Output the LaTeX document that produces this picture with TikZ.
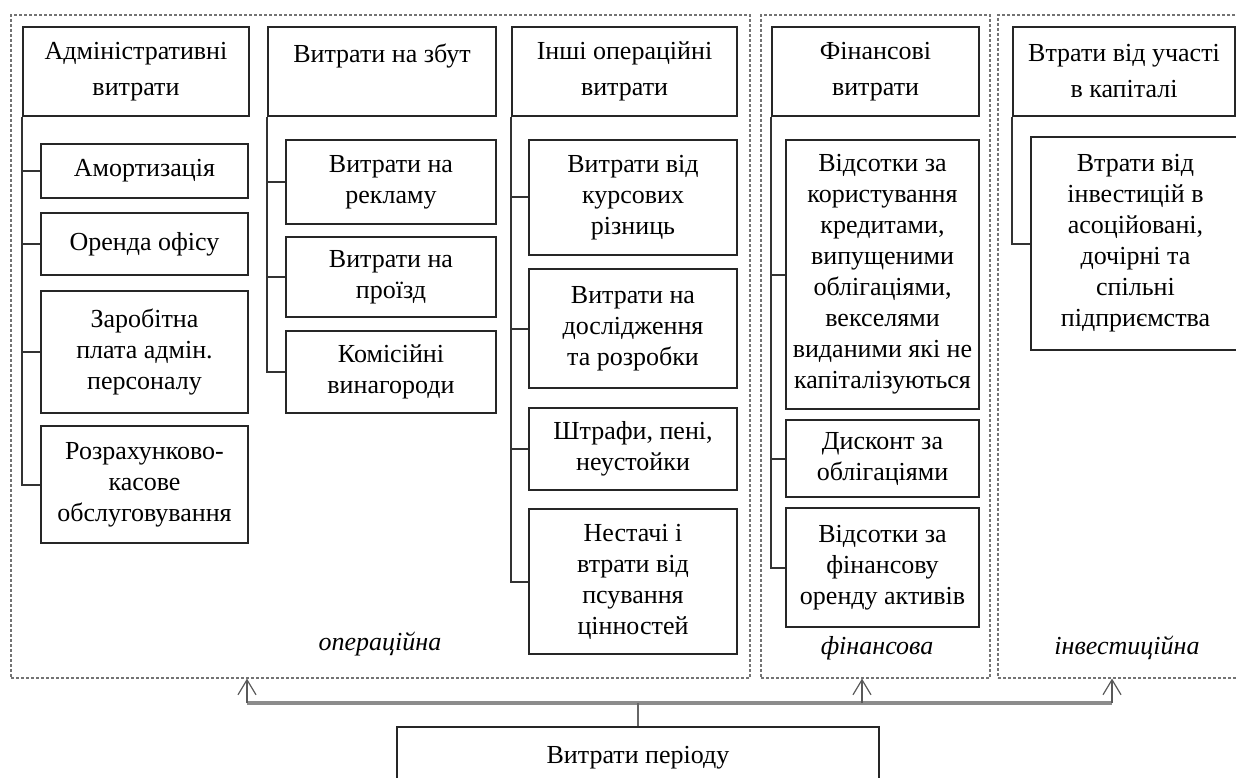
\documentclass[tikz,border=0pt]{standalone}
\usepackage{fontspec}
\setmainfont{Liberation Serif}
\usetikzlibrary{arrows.meta}
\tikzset{
  hdr/.style={draw=black!85, line width=2pt, align=center, inner sep=0pt, font=\fontsize{26}{36}\selectfont},
  item/.style={draw=black!85, line width=2pt, align=center, inner sep=0pt, font=\fontsize{26}{31}\selectfont},
  frame/.style={draw=black!55, line width=1.2pt, dash pattern=on 3pt off 2pt, inner sep=0pt},
  link/.style={draw=black!80, line width=2pt},
  kind/.style={font=\fontsize{26}{30}\selectfont\itshape},
  bus/.style={draw=black!45, line width=4pt},
  up/.style={draw=black!65, line width=1.2pt, -{Straight Barb[length=15pt,width=18pt]}}
}
\begin{document}
\begin{tikzpicture}[x=1pt,y=-1pt]
  \useasboundingbox (0,0) rectangle (1236,778);
  \node[frame, minimum width=739pt, minimum height=663pt] (opframe) at (380.5,346.5) {};
  \node[frame, minimum width=229pt, minimum height=663pt] (finframe) at (875.5,346.5) {};
  \node[frame, minimum width=247pt, minimum height=663pt] (invframe) at (1121.5,346.5) {};

  \node[hdr, minimum width=226pt, minimum height=89pt] (admh) at (136,71.5) {Адміністративні\\витрати};
  \node[item, minimum width=207pt, minimum height=54pt] (adm1) at (144.5,171) {Амортизація};
  \node[item, minimum width=207pt, minimum height=62pt] (adm2) at (144.5,244) {Оренда офісу};
  \node[item, minimum width=207pt, minimum height=122pt] (adm3) at (144.5,352) {Заробітна\\плата адмін.\\персоналу};
  \node[item, minimum width=207pt, minimum height=117pt] (adm4) at (144.5,484.5) {Розрахунково-\\касове\\обслуговування};

  \node[hdr, minimum width=228pt, minimum height=89pt] (salh) at (382,71.5) {Витрати на збут\\~};
  \node[item, minimum width=210pt, minimum height=84pt] (sal1) at (391,182) {Витрати на\\рекламу};
  \node[item, minimum width=210pt, minimum height=80pt] (sal2) at (391,277) {Витрати на\\проїзд};
  \node[item, minimum width=210pt, minimum height=82pt] (sal3) at (391,372) {Комісійні\\винагороди};

  \node[hdr, minimum width=225pt, minimum height=89pt] (othh) at (624.5,71.5) {Інші операційні\\витрати};
  \node[item, minimum width=208pt, minimum height=115pt] (oth1) at (633,197.5) {Витрати від\\курсових\\різниць};
  \node[item, minimum width=208pt, minimum height=119pt] (oth2) at (633,328.5) {Витрати на\\дослідження\\та розробки};
  \node[item, minimum width=208pt, minimum height=82pt] (oth3) at (633,449) {Штрафи, пені,\\неустойки};
  \node[item, minimum width=208pt, minimum height=145pt] (oth4) at (633,581.5) {Нестачі і\\втрати від\\псування\\цінностей};

  \node[hdr, minimum width=207pt, minimum height=89pt] (finh) at (875.5,71.5) {Фінансові\\витрати};
  \node[item, minimum width=193pt, minimum height=269pt] (fin1) at (882.5,274.5) {Відсотки за\\користування\\кредитами,\\випущеними\\облігаціями,\\векселями\\виданими які не\\капіталізуються};
  \node[item, minimum width=193pt, minimum height=77pt] (fin2) at (882.5,458.5) {Дисконт за\\облігаціями};
  \node[item, minimum width=193pt, minimum height=119pt] (fin3) at (882.5,567.5) {Відсотки за\\фінансову\\оренду активів};

  \node[hdr, minimum width=222pt, minimum height=89pt] (invh) at (1124,71.5) {Втрати від участі\\в капіталі};
  \node[item, minimum width=209pt, minimum height=213pt] (inv1) at (1135.5,243.5) {Втрати від\\інвестицій в\\асоційовані,\\дочірні та\\спільні\\підприємства};

  \node[kind] (opname) at (380,644) {операційна};
  \node[kind] (finname) at (877,648) {фінансова};
  \node[kind] (invname) at (1127,648) {інвестиційна};

  \node[item, minimum width=482pt, minimum height=62pt] (period) at (638,758) {Витрати періоду};

  \draw[link] (admh.south west) |- (adm4.west);
  \draw[link] (adm1.west) -- (adm1.west -| admh.west);
  \draw[link] (adm2.west) -- (adm2.west -| admh.west);
  \draw[link] (adm3.west) -- (adm3.west -| admh.west);
  \draw[link] (salh.south west) |- (sal3.west);
  \draw[link] (sal1.west) -- (sal1.west -| salh.west);
  \draw[link] (sal2.west) -- (sal2.west -| salh.west);
  \draw[link] (othh.south west) |- (oth4.west);
  \draw[link] (oth1.west) -- (oth1.west -| othh.west);
  \draw[link] (oth2.west) -- (oth2.west -| othh.west);
  \draw[link] (oth3.west) -- (oth3.west -| othh.west);
  \draw[link] (finh.south west) |- (fin3.west);
  \draw[link] (fin1.west) -- (fin1.west -| finh.west);
  \draw[link] (fin2.west) -- (fin2.west -| finh.west);
  \draw[link] (invh.south west) |- (inv1.west);

  \coordinate (busA) at (247,703);
  \coordinate (busB) at (862,703);
  \coordinate (busC) at (1112,703);
  \draw[bus] (busA) -- (busC);
  \draw[draw=black!60, line width=1.2pt] (period.north) -- (period.north |- busA);
  \draw[up] (busA) -- (busA |- opframe.south);
  \draw[up] (busB) -- (busB |- finframe.south);
  \draw[up] (busC) -- (busC |- invframe.south);
\end{tikzpicture}
\end{document}
